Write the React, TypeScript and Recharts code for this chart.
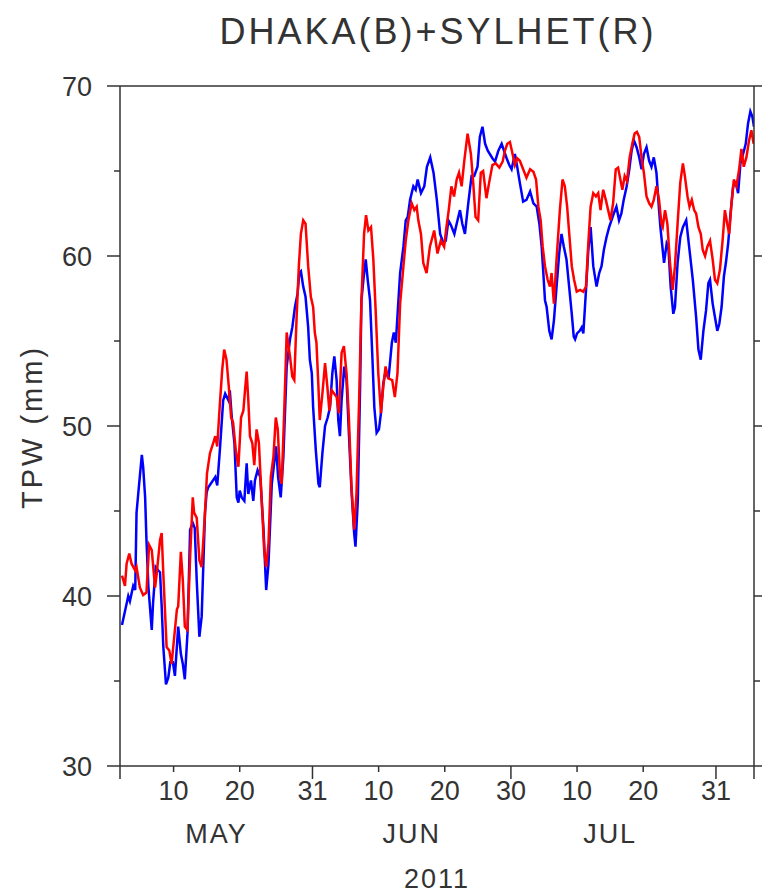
import React from 'react';
import { Line, LineChart, XAxis, YAxis } from 'recharts';

// days counted from May 1 = 1 (Jun 1 = 32, Jul 1 = 62, Aug 1 = 93)
const X_DOMAIN: [number, number] = [1.9, 97.75];
const DAY_TICKS = [10, 20, 31, 41, 51, 61, 71, 81, 92];
const DAY_LABELS = ['10', '20', '31', '10', '20', '30', '10', '20', '31'];
const MAJOR_DAY_TICKS = [1.9, 31, 61, 92, 97.75];
const MONTH_TICKS = [16.5, 46, 76];
const MONTH_LABELS = ['MAY', 'JUN', 'JUL'];
const YEAR_LABEL = '2011';
const Y_TICKS = [30, 35, 40, 45, 50, 55, 60, 65, 70];

// DHAKA (blue)
const blueDay = [
  2.2, 3.15, 3.4, 3.9, 4.2, 4.4, 4.7, 5.2, 5.4, 5.7, 5.9, 6.2, 6.7, 6.9, 7.3, 7.7, 7.95, 8.2, 8.45, 8.85,
  9.2, 9.5, 9.9, 10.2, 10.7, 11.1, 11.4, 11.7, 12.1, 12.5, 12.9, 13.2, 13.5, 13.9, 14.25, 14.75, 15.0, 15.25, 16.3, 16.6,
  17.0, 17.5, 17.8, 18.3, 18.5, 18.8, 19.2, 19.55, 19.8, 20.0, 20.3, 20.7, 21.05, 21.3, 21.7, 22.05, 22.3, 22.7, 23.1, 23.6,
  24.0, 24.35, 24.85, 25.2, 25.5, 25.8, 26.2, 26.6, 27.1, 27.6, 27.95, 28.35, 28.75, 29.0, 29.25, 29.6, 29.95, 30.35, 30.6, 30.9,
  31.1, 31.5, 31.9, 32.1, 32.5, 32.9, 33.3, 33.65, 34.0, 34.3, 34.65, 34.9, 35.15, 35.4, 35.8, 36.15, 36.5, 36.9, 37.3, 37.5,
  37.85, 38.2, 38.4, 38.75, 39.05, 39.35, 39.7, 40.05, 40.35, 40.7, 41.05, 41.35, 41.7, 42.05, 42.5, 43.0, 43.3, 43.6, 43.9, 44.25,
  44.75, 45.1, 45.4, 45.75, 46.25, 46.6, 46.9, 47.4, 47.9, 48.3, 48.8, 49.3, 49.8, 50.3, 50.8, 51.15, 51.55, 51.95, 52.45, 52.8,
  53.3, 53.65, 54.05, 54.55, 55.05, 55.45, 55.95, 56.3, 56.7, 57.1, 57.5, 58.2, 58.6, 59.1, 59.6, 59.95, 60.35, 60.75, 61.1, 61.6,
  61.95, 62.35, 62.85, 63.35, 63.9, 64.4, 64.9, 65.3, 65.65, 65.9, 66.15, 66.4, 66.8, 67.15, 67.5, 67.9, 68.3, 68.65, 69.0, 69.4,
  69.8, 70.2, 70.5, 70.7, 71.0, 71.4, 71.7, 71.95, 72.35, 72.7, 73.05, 73.45, 73.95, 74.35, 74.7, 75.05, 75.45, 75.85, 76.2, 76.55,
  76.95, 77.35, 77.7, 78.05, 78.5, 78.9, 79.25, 79.6, 80.0, 80.4, 80.75, 81.1, 81.5, 81.9, 82.25, 82.6, 83.0, 83.4, 83.6, 83.95,
  84.15, 84.55, 84.8, 85.15, 85.55, 85.8, 86.2, 86.6, 87.0, 87.5, 88.0, 88.5, 89.0, 89.35, 89.7, 90.1, 90.5, 90.85, 91.1, 91.5,
  91.85, 92.2, 92.5, 92.85, 93.2, 93.5, 93.85, 94.2, 94.6, 95.0, 95.35, 95.7, 96.1, 96.5, 96.85, 97.2, 97.5, 97.75,
];
const blueTPW = [
  38.3, 40.0, 39.7, 40.6, 40.35, 44.9, 46.2, 48.3, 47.6, 45.8, 43.3, 40.5, 38.0, 39.6, 41.7, 41.5, 41.4, 39.4, 37.0, 34.8,
  35.2, 36.1, 36.1, 35.3, 38.2, 36.6, 36.0, 35.1, 37.8, 43.9, 44.3, 44.0, 40.9, 37.6, 38.8, 44.9, 46.1, 46.4, 47.0, 46.5,
  48.6, 51.5, 51.9, 51.5, 52.1, 50.5, 49.0, 45.8, 45.5, 46.2, 45.8, 45.6, 47.8, 46.0, 46.8, 45.6, 46.8, 47.4, 47.0, 43.9,
  40.35, 41.9, 46.6, 47.8, 48.8, 47.0, 45.8, 48.2, 53.5, 55.1, 55.8, 57.0, 57.8, 59.0, 59.1, 58.2, 57.6, 55.8, 53.9, 53.1,
  51.1, 48.6, 46.6, 46.4, 48.4, 50.0, 50.5, 51.1, 53.1, 54.1, 52.7, 50.35, 49.4, 51.5, 53.5, 52.7, 49.6, 46.2, 43.7, 42.9,
  45.6, 52.3, 57.4, 58.8, 59.8, 58.6, 57.4, 54.1, 51.1, 49.6, 49.8, 50.75, 52.5, 53.2, 52.8, 54.9, 55.5, 54.9, 56.8, 59.0,
  60.55, 62.1, 62.3, 63.3, 64.1, 63.9, 64.5, 63.7, 64.1, 65.25, 65.8, 64.9, 63.3, 61.3, 60.75, 60.9, 62.1, 61.8, 61.3, 61.9,
  62.7, 61.9, 61.3, 63.1, 64.7, 64.7, 65.25, 67.0, 67.6, 66.6, 66.2, 65.75, 65.55, 66.2, 66.6, 66.2, 65.75, 65.35, 65.1, 66.0,
  65.25, 64.3, 63.2, 63.3, 63.8, 63.1, 62.9, 61.9, 60.55, 59.0, 57.4, 57.0, 55.6, 55.1, 56.2, 58.2, 60.15, 61.3, 60.55, 59.8,
  58.2, 56.6, 55.25, 55.1, 55.45, 55.6, 55.8, 55.45, 58.0, 60.35, 61.7, 59.4, 58.2, 59.0, 59.4, 60.35, 61.1, 61.7, 62.1, 62.5,
  62.9, 62.1, 62.5, 63.3, 64.1, 65.1, 66.2, 66.8, 66.4, 65.8, 65.1, 66.0, 66.4, 65.6, 65.25, 65.8, 64.9, 62.7, 61.7, 60.35,
  59.6, 60.75, 60.55, 58.2, 56.6, 57.0, 59.6, 61.1, 61.7, 62.1, 60.35, 58.6, 56.4, 54.5, 53.9, 55.6, 56.8, 58.4, 58.6, 57.2,
  56.4, 55.6, 56.0, 57.0, 58.8, 59.6, 60.75, 62.5, 64.1, 64.3, 63.7, 65.45, 66.0, 66.6, 67.8, 68.5, 68.2, 67.6,
];

// SYLHET (red)
const redDay = [
  2.2, 2.65, 2.9, 3.3, 3.65, 4.2, 4.4, 4.9, 5.4, 5.9, 6.3, 6.7, 7.2, 7.45, 7.95, 8.2, 8.45, 8.95, 9.35, 9.7,
  9.95, 10.5, 10.7, 11.1, 11.4, 11.7, 12.1, 12.5, 12.9, 13.1, 13.5, 13.9, 14.25, 14.75, 15.05, 15.5, 16.0, 16.3, 16.6, 17.0,
  17.35, 17.65, 18.0, 18.35, 18.7, 19.0, 19.4, 19.8, 20.2, 20.55, 20.8, 21.05, 21.3, 21.55, 21.9, 22.2, 22.55, 22.9, 23.3, 23.7,
  24.0, 24.35, 24.7, 25.1, 25.45, 25.75, 26.1, 26.35, 26.75, 27.1, 27.6, 27.95, 28.25, 28.6, 28.95, 29.25, 29.6, 29.95, 30.35, 30.75,
  31.1, 31.35, 31.6, 31.9, 32.1, 32.5, 32.9, 33.25, 33.55, 33.9, 34.3, 34.65, 35.0, 35.4, 35.75, 36.15, 36.5, 36.9, 37.3, 37.65,
  38.05, 38.4, 38.8, 39.1, 39.45, 39.85, 40.2, 40.55, 40.95, 41.35, 41.7, 42.05, 42.45, 43.05, 43.45, 43.85, 44.25, 44.75, 45.1, 45.5,
  46.0, 46.4, 46.75, 47.0, 47.4, 47.75, 48.25, 48.75, 49.4, 49.9, 50.4, 50.9, 51.25, 51.6, 52.0, 52.4, 52.8, 53.15, 53.55, 53.95,
  54.45, 54.95, 55.3, 55.65, 56.05, 56.45, 56.8, 57.3, 57.7, 58.2, 58.7, 59.25, 59.75, 60.1, 60.45, 60.85, 61.25, 61.6, 61.95, 62.35,
  62.85, 63.35, 63.9, 64.4, 64.8, 65.15, 65.5, 65.8, 66.15, 66.55, 66.9, 67.15, 67.5, 67.9, 68.4, 68.8, 69.15, 69.5, 69.9, 70.2,
  70.55, 70.95, 71.45, 71.95, 72.35, 72.7, 73.05, 73.45, 73.85, 74.2, 74.55, 74.95, 75.35, 75.7, 76.05, 76.45, 76.85, 77.2, 77.55, 77.85,
  78.2, 78.55, 78.95, 79.35, 79.7, 80.05, 80.4, 80.75, 81.1, 81.5, 81.9, 82.25, 82.6, 83.0, 83.4, 83.75, 83.95, 84.3, 84.65, 85.05,
  85.45, 85.8, 86.2, 86.6, 87.0, 87.3, 87.7, 88.0, 88.35, 88.7, 89.0, 89.35, 89.7, 90.0, 90.35, 90.7, 91.1, 91.5, 91.85, 92.2,
  92.6, 93.0, 93.35, 93.7, 94.0, 94.35, 94.7, 95.1, 95.5, 95.85, 96.2, 96.6, 97.0, 97.35, 97.7,
];
const redTPW = [
  41.2, 40.6, 41.9, 42.5, 41.9, 41.5, 41.7, 40.5, 40.06, 40.2, 43.0, 42.7, 40.5, 41.3, 43.3, 43.7, 41.3, 37.0, 36.8, 36.0,
  37.0, 39.2, 39.4, 42.6, 40.9, 38.2, 38.0, 42.3, 45.8, 44.9, 44.6, 42.1, 41.7, 44.9, 47.2, 48.4, 49.0, 49.4, 48.8, 51.3,
  53.3, 54.5, 53.9, 52.3, 50.5, 50.2, 48.6, 47.6, 50.5, 50.9, 52.1, 53.2, 51.5, 49.4, 49.0, 47.7, 49.8, 49.0, 45.8, 42.7,
  41.7, 43.1, 47.0, 48.2, 50.5, 49.8, 47.0, 46.6, 51.1, 55.5, 54.1, 52.9, 52.7, 56.4, 59.5, 61.3, 62.1, 61.9, 59.4, 57.6,
  57.0, 55.5, 54.9, 52.3, 50.35, 51.9, 53.7, 52.3, 50.9, 52.1, 51.9, 51.7, 50.75, 54.3, 54.7, 53.1, 50.5, 46.4, 43.9, 46.0,
  51.5, 57.4, 61.3, 62.4, 61.5, 61.7, 59.8, 56.8, 53.1, 50.75, 52.3, 53.5, 52.8, 52.7, 51.7, 53.1, 57.2, 59.4, 60.9, 62.1,
  63.1, 62.7, 62.9, 62.1, 61.3, 59.6, 59.0, 60.55, 61.5, 60.15, 60.9, 60.55, 61.7, 62.7, 64.1, 63.5, 64.5, 64.9, 64.1, 65.6,
  67.2, 66.0, 64.3, 62.3, 62.1, 64.9, 65.0, 63.4, 64.3, 65.35, 65.45, 65.2, 65.55, 66.2, 66.6, 66.7, 66.0, 65.35, 65.75, 65.6,
  65.1, 64.6, 65.1, 64.95, 64.5, 62.9, 62.1, 60.55, 59.4, 58.6, 58.2, 59.0, 57.2, 59.8, 62.7, 64.5, 64.1, 62.9, 60.9, 59.4,
  58.6, 57.9, 58.0, 57.9, 58.2, 60.75, 62.9, 63.7, 63.5, 63.7, 62.7, 63.9, 63.3, 62.7, 62.1, 63.1, 65.1, 65.2, 64.5, 63.9,
  64.7, 64.4, 65.8, 66.6, 67.2, 67.3, 67.0, 65.8, 64.9, 63.5, 63.1, 62.9, 63.3, 64.1, 63.3, 61.9, 61.7, 62.7, 61.9, 59.6,
  58.0, 59.4, 61.9, 64.3, 65.45, 64.7, 63.5, 62.9, 63.3, 62.7, 62.5, 61.7, 61.3, 60.35, 60.0, 60.55, 60.9, 59.8, 58.6, 58.4,
  59.2, 60.9, 62.7, 61.9, 61.3, 63.1, 64.5, 64.1, 65.1, 66.3, 65.25, 65.8, 66.8, 67.4, 66.6,
];

const blueData = blueDay.map((day, i) => ({ day, tpw: blueTPW[i] }));
const redData = redDay.map((day, i) => ({ day, tpw: redTPW[i] }));

const FONT = '"Liberation Sans", Arial, sans-serif';
const INK = '#333';
const MAJOR_LEN = 13;
const MINOR_LEN = 6;

const BottomTick = (props: any) => {
  const { x, y, payload } = props;
  const v = payload.value;
  const m = MONTH_TICKS.indexOf(v);
  if (m >= 0) {
    return (
      <text x={x} y={y + 77} textAnchor="middle" fontSize={27} letterSpacing={2} fontFamily={FONT} fill={INK}>
        {MONTH_LABELS[m]}
      </text>
    );
  }
  const len = MAJOR_DAY_TICKS.includes(v) ? MAJOR_LEN : MINOR_LEN;
  const i = DAY_TICKS.indexOf(v);
  return (
    <g>
      <line x1={x} x2={x} y1={y} y2={y + len} stroke={INK} strokeWidth={1.5} />
      {i >= 0 && (
        <text x={x} y={y + 34} textAnchor="middle" fontSize={27} fontFamily={FONT} fill={INK}>
          {DAY_LABELS[i]}
        </text>
      )}
    </g>
  );
};

const TopTick = (props: any) => {
  const { x, y, payload } = props;
  const len = MAJOR_DAY_TICKS.includes(payload.value) ? MAJOR_LEN : MINOR_LEN;
  return <line x1={x} x2={x} y1={y} y2={y - len} stroke={INK} strokeWidth={1.5} />;
};

const LeftTick = (props: any) => {
  const { x, y, payload } = props;
  const major = payload.value % 10 === 0;
  return (
    <g>
      <line x1={x} x2={x - (major ? MAJOR_LEN : MINOR_LEN)} y1={y} y2={y} stroke={INK} strokeWidth={1.5} />
      {major && (
        <text x={x - 28} y={y + 10} textAnchor="end" fontSize={27} fontFamily={FONT} fill={INK}>
          {payload.value}
        </text>
      )}
    </g>
  );
};

const RightTick = (props: any) => {
  const { x, y, payload } = props;
  const major = payload.value % 10 === 0;
  return <line x1={x} x2={x + (major ? MAJOR_LEN : MINOR_LEN)} y1={y} y2={y} stroke={INK} strokeWidth={1.5} />;
};

export default function App() {
  return (
    <div style={{ position: 'absolute', left: 0, top: 0, width: 762, height: 895, background: '#fff' }}>
      <svg width={762} height={895} style={{ position: 'absolute', left: 0, top: 0 }}>
        <text x={438} y={44} textAnchor="middle" fontSize={36} letterSpacing={3} fontFamily={FONT} fill={INK}>
          DHAKA(B)+SYLHET(R)
        </text>
        <text
          x={0}
          y={0}
          transform="translate(42 427) rotate(-90)"
          textAnchor="middle"
          fontSize={29}
          letterSpacing={3}
          fontFamily={FONT}
          fill={INK}
        >
          TPW (mm)
        </text>
        <text x={437} y={888} textAnchor="middle" fontSize={27} letterSpacing={2} fontFamily={FONT} fill={INK}>
          {YEAR_LABEL}
        </text>
      </svg>
      <div style={{ position: 'absolute', left: 0, top: 0 }}>
        <LineChart width={762} height={895} margin={{ top: 56, right: 0, bottom: 0, left: 0 }}>
          <XAxis
            dataKey="day"
            type="number"
            domain={X_DOMAIN}
            allowDataOverflow
            ticks={[X_DOMAIN[0], ...DAY_TICKS, ...MONTH_TICKS, X_DOMAIN[1]]}
            interval={0}
            tick={<BottomTick />}
            tickLine={false}
            tickSize={0}
            tickMargin={0}
            height={129}
            axisLine={{ stroke: INK, strokeWidth: 1.5 }}
          />
          <XAxis
            xAxisId="top"
            orientation="top"
            type="number"
            domain={X_DOMAIN}
            allowDataOverflow
            ticks={[X_DOMAIN[0], ...DAY_TICKS, X_DOMAIN[1]]}
            interval={0}
            tick={<TopTick />}
            tickLine={false}
            tickSize={0}
            tickMargin={0}
            height={30}
            axisLine={{ stroke: INK, strokeWidth: 1.5 }}
          />
          <YAxis
            type="number"
            domain={[30, 70]}
            allowDataOverflow
            ticks={Y_TICKS}
            interval={0}
            tick={<LeftTick />}
            tickLine={false}
            tickSize={0}
            tickMargin={0}
            width={120}
            axisLine={{ stroke: INK, strokeWidth: 1.5 }}
          />
          <YAxis
            yAxisId="right"
            orientation="right"
            type="number"
            domain={[30, 70]}
            allowDataOverflow
            ticks={Y_TICKS}
            interval={0}
            tick={<RightTick />}
            tickLine={false}
            tickSize={0}
            tickMargin={0}
            width={8}
            axisLine={{ stroke: INK, strokeWidth: 1.5 }}
          />
          <Line
            data={blueData}
            dataKey="tpw"
            type="linear"
            stroke="#0000ff"
            strokeWidth={2.5}
            dot={false}
            isAnimationActive={false}
          />
          <Line
            data={redData}
            dataKey="tpw"
            type="linear"
            stroke="#ff0000"
            strokeWidth={2.5}
            dot={false}
            isAnimationActive={false}
          />
        </LineChart>
      </div>
    </div>
  );
}
